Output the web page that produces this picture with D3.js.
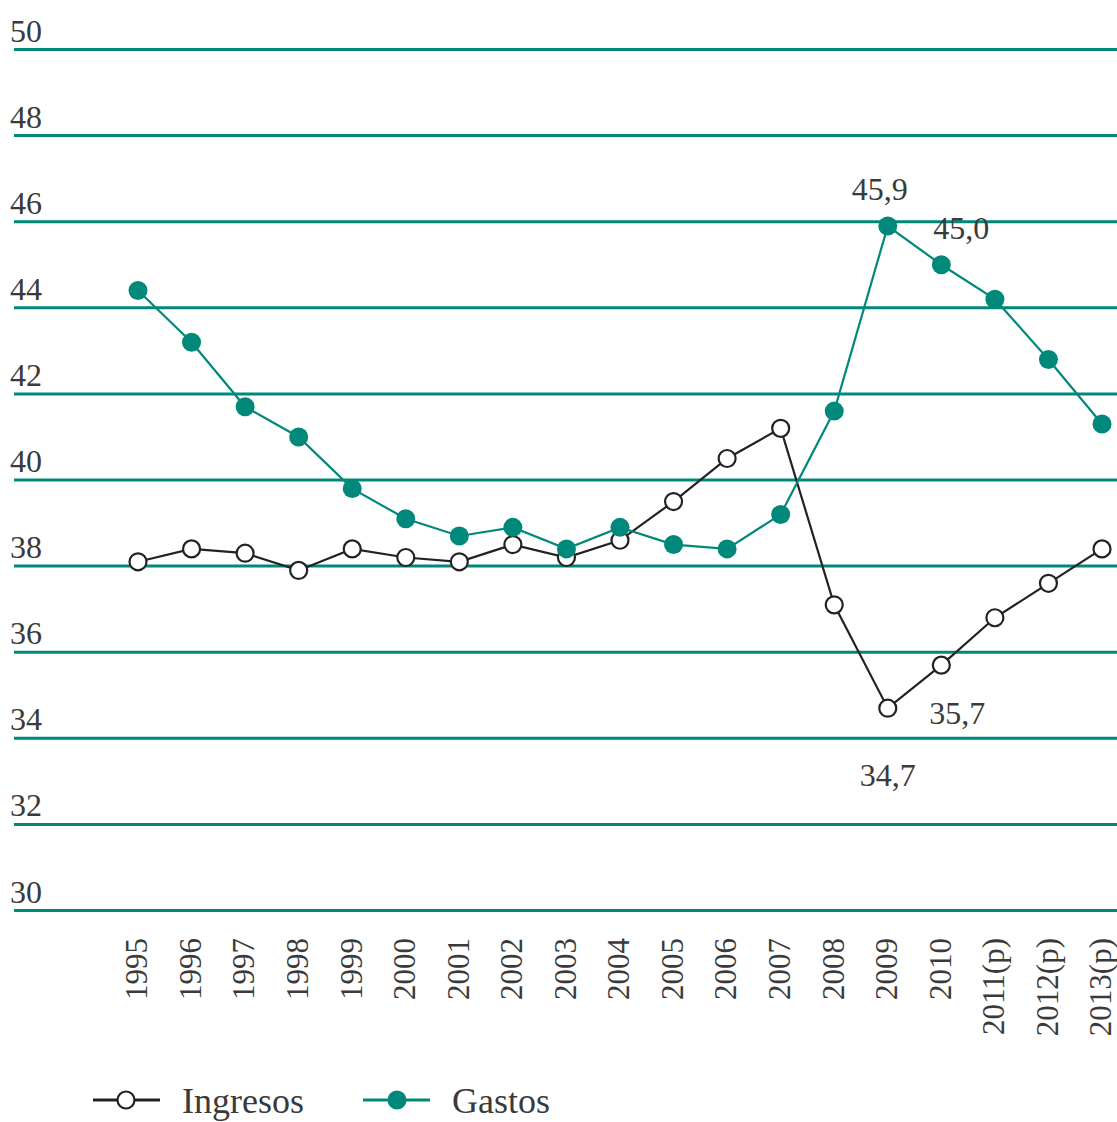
<!DOCTYPE html>
<html>
<head>
<meta charset="utf-8">
<script src="https://cdn.jsdelivr.net/npm/d3@7"></script>
<style>
  body { margin: 0; background: #fff; }
  svg text { font-family: "Liberation Serif", "DejaVu Serif", serif; fill: #3a3a3a; }
</style>
</head>
<body>
<svg id="chart" width="1117" height="1122"></svg>
<script>
// years on the x axis
var years = ["1995", "1996", "1997", "1998", "1999", "2000", "2001", "2002", "2003", "2004",
    "2005", "2006", "2007", "2008", "2009", "2010", "2011(p)", "2012(p)", "2013(p)"];

// % values
var ingresos = [38.1, 38.4, 38.3, 37.9, 38.4, 38.2, 38.1, 38.5, 38.2, 38.6,
    39.5, 40.5, 41.2, 37.1, 34.7, 35.7, 36.8, 37.6, 38.4];
var gastos = [44.4, 43.2, 41.7, 41.0, 39.8, 39.1, 38.7, 38.9, 38.4, 38.9,
    38.5, 38.4, 39.2, 41.6, 45.9, 45.0, 44.2, 42.8, 41.3];

var yTicks = [30, 32, 34, 36, 38, 40, 42, 44, 46, 48, 50];

// labelled points: [series, year index, text]
var notes = [
    ["gastos", 14, "45,9"],
    ["gastos", 15, "45,0"],
    ["ingresos", 14, "34,7"],
    ["ingresos", 15, "35,7"]
];

var legendItems = ["Ingresos", "Gastos"];

var teal = "#00897a";
var dark = "#222";

var svg = d3.select("#chart");

var x = d3.scalePoint().domain(years).range([138, 1102]);
var y = d3.scaleLinear().domain([30, 50]).range([910.5, 49.5]);

// Grid lines with labels sitting above them
var grid = svg.append("g").attr("class", "grid");
grid.selectAll("line")
    .data(yTicks)
    .enter()
    .append("line")
    .attr("x1", 14)
    .attr("x2", 1117)
    .attr("y1", function (d) { return y(d); })
    .attr("y2", function (d) { return y(d); })
    .attr("stroke", teal)
    .attr("stroke-width", 3);
grid.selectAll("text")
    .data(yTicks)
    .enter()
    .append("text")
    .attr("x", 10)
    .attr("y", function (d) { return y(d) - 8; })
    .attr("font-size", 32)
    .text(function (d) { return d; });

// Year labels, rotated
svg.append("g").attr("class", "years")
    .selectAll("text")
    .data(years)
    .enter()
    .append("text")
    .attr("transform", function (d) { return "translate(" + x(d) + ",938) rotate(-90)"; })
    .attr("text-anchor", "end")
    .attr("dy", "0.3em")
    .attr("font-size", 31)
    .text(function (d) { return d; });

var line = d3.line()
    .x(function (d, i) { return x(years[i]); })
    .y(function (d) { return y(d); });

// Ingresos
svg.append("path")
    .datum(ingresos)
    .attr("d", line)
    .attr("fill", "none")
    .attr("stroke", dark)
    .attr("stroke-width", 2.2);
svg.append("g")
    .selectAll("circle")
    .data(ingresos)
    .enter()
    .append("circle")
    .attr("cx", function (d, i) { return x(years[i]); })
    .attr("cy", function (d) { return y(d); })
    .attr("r", 8.5)
    .attr("fill", "#fff")
    .attr("stroke", dark)
    .attr("stroke-width", 2.2);

// Gastos
svg.append("path")
    .datum(gastos)
    .attr("d", line)
    .attr("fill", "none")
    .attr("stroke", teal)
    .attr("stroke-width", 2.2);
svg.append("g")
    .selectAll("circle")
    .data(gastos)
    .enter()
    .append("circle")
    .attr("cx", function (d, i) { return x(years[i]); })
    .attr("cy", function (d) { return y(d); })
    .attr("r", 9.5)
    .attr("fill", teal);

// value notes
var noteOffset = {
    "gastos14": [-8, -26],
    "gastos15": [20, -26],
    "ingresos14": [0, 78],
    "ingresos15": [16, 59]
};
svg.append("g")
    .selectAll("text")
    .data(notes)
    .enter()
    .append("text")
    .attr("text-anchor", "middle")
    .attr("font-size", 32)
    .attr("x", function (d) { return x(years[d[1]]) + noteOffset[d[0] + d[1]][0]; })
    .attr("y", function (d) {
        var v = d[0] == "gastos" ? gastos[d[1]] : ingresos[d[1]];
        return y(v) + noteOffset[d[0] + d[1]][1];
    })
    .text(function (d) { return d[2]; });

// Legend
var legend = svg.append("g").attr("transform", "translate(0,1100)");
legendItems.forEach(function (name, i) {
    var lx = i == 0 ? 93 : 363;
    var col = i == 0 ? dark : teal;
    legend.append("line")
        .attr("x1", lx).attr("x2", lx + 67)
        .attr("y1", 0).attr("y2", 0)
        .attr("stroke", col)
        .attr("stroke-width", 3);
    if (i == 0) {
        legend.append("circle")
            .attr("cx", lx + 33).attr("cy", 0).attr("r", 8.5)
            .attr("fill", "#fff").attr("stroke", dark).attr("stroke-width", 2.2);
    } else {
        legend.append("circle")
            .attr("cx", lx + 34).attr("cy", 0).attr("r", 9.5)
            .attr("fill", teal);
    }
    legend.append("text")
        .attr("x", lx + 89)
        .attr("y", 13)
        .attr("font-size", 36)
        .text(name);
});
</script>
</body>
</html>
